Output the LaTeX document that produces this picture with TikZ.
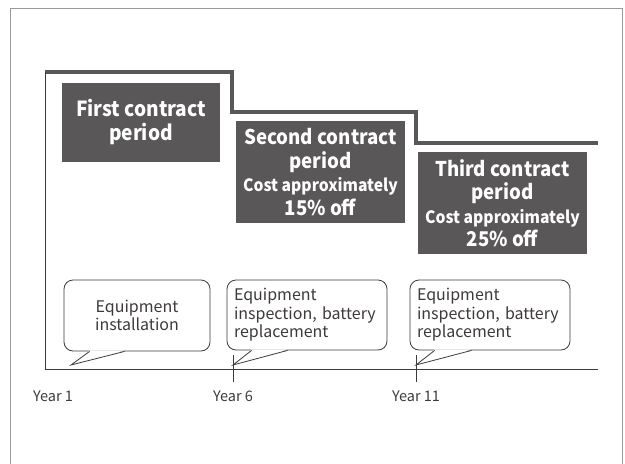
\documentclass[tikz,border=0pt]{standalone}
\usepackage{fontspec}
\setmainfont{Noto Sans CJK JP}[BoldFeatures={FakeStretch=0.92}]
\usepackage{tikz}
\usetikzlibrary{calc}
\usepackage{xcolor}
\definecolor{boxgray}{HTML}{595757}
\definecolor{linegray}{HTML}{3E3A39}
\definecolor{framegray}{HTML}{9A9A9A}

\begin{document}
\begin{tikzpicture}[x=1pt,y=-1pt,
	periodbox/.style={fill=boxgray,text=white,font=\bfseries\fontsize{20.3}{23.5}\selectfont,
		inner sep=0pt,align=center},
	bubble/.style={draw=linegray,line width=0.8pt,rounded corners=9pt,fill=white,
		inner sep=0pt,text=linegray,font=\fontsize{16}{18.5}\selectfont},
	yearlabel/.style={text=linegray,font=\fontsize{14.5}{16}\selectfont,anchor=center}]
	
	\useasboundingbox (0,0) rectangle (625,464);
	
	% outer frame (bottom edge runs off the page)
	\draw[framegray,line width=0.8pt] (10,470) -- (10,8) -- (622,8) -- (622,470);
	
	% cost steps
	\draw[boxgray,line width=4pt] (45,72) -- (232,72) -- (232,112)
		-- (416,112) -- (416,143) -- (598,143);
	
	% axes
	\draw[linegray,line width=0.9pt] (45,72) -- (45,369) -- (598,369);
	\draw[linegray,line width=0.9pt] (233,355) -- (233,382);
	\draw[linegray,line width=0.9pt] (416,355) -- (416,382);
	
	% contract periods
	\node[periodbox,minimum width=158pt,minimum height=79pt,font=\bfseries\fontsize{20.8}{24}\selectfont]
		(first) at (141,122) {First contract\\period};
	\node[periodbox,minimum width=169pt,minimum height=102pt] (second) at (320.5,172)
		{Second contract\\period\\{\fontsize{17}{23.5}\selectfont Cost approximately}\\15\% off};
	\node[periodbox,minimum width=169pt,minimum height=102pt] (third) at (502.5,203)
		{Third contract\\period\\{\fontsize{17}{23.5}\selectfont Cost approximately}\\25\% off};
	
	% work done at each point
	\node[bubble,minimum width=146pt,minimum height=71pt,align=center] (install) at (137,315.5)
		{Equipment\\installation};
	\node[bubble,minimum width=160pt,minimum height=70pt,text width=146pt,align=left] (check1) at (307,315)
		{Equipment\\inspection, battery\\replacement};
	\node[bubble,minimum width=160pt,minimum height=70pt,text width=146pt,align=left] (check2) at (490,315)
		{Equipment\\inspection, battery\\replacement};
	
	% bubble tails
	\coordinate (tip1) at (71,365);
	\coordinate (tip2) at (233,365);
	\coordinate (tip3) at (416,365);
	\foreach \b/\t/\l/\r in {install/tip1/26/61,check1/tip2/25/61,check2/tip3/25/62}{
		\fill[white] ($(\b.south west)+(\l,-1)$) -- (\t) -- ($(\b.south west)+(\r,-1)$) -- cycle;
		\draw[linegray,line width=0.8pt] ($(\b.south west)+(\l,0)$) -- (\t) -- ($(\b.south west)+(\r,0)$);
	}
	
	% years
	\node[yearlabel] (y1) at (53,396) {Year 1};
	\node[yearlabel] (y6) at (233,396) {Year 6};
	\node[yearlabel] (y11) at (416,396) {Year 11};
	
\end{tikzpicture}
\end{document}
